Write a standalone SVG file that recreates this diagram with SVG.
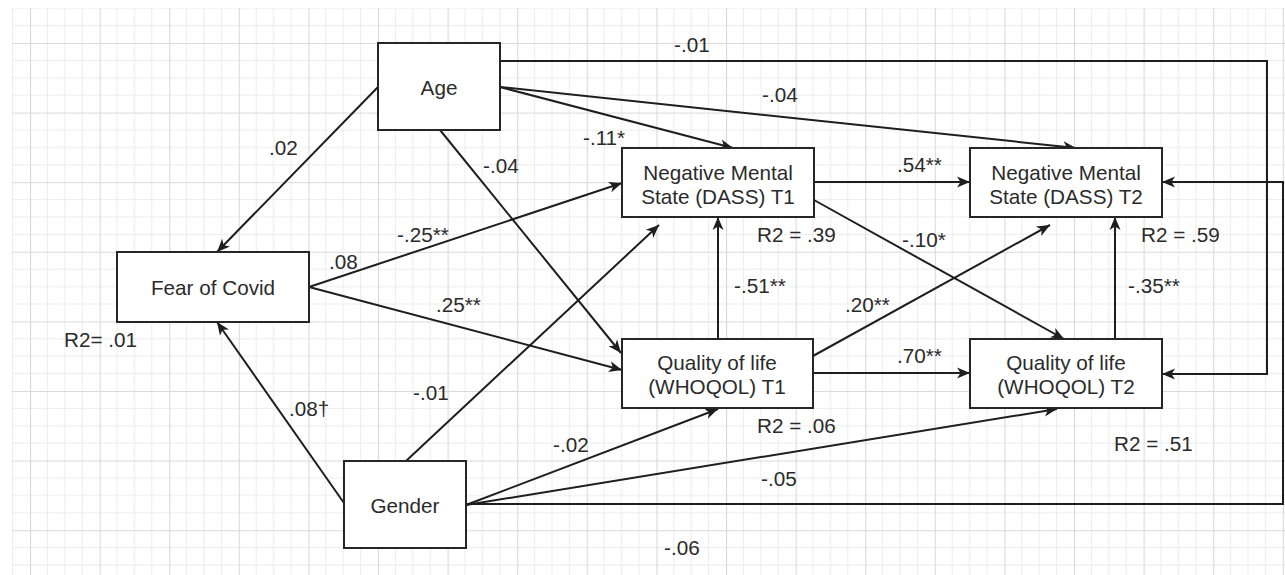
<svg xmlns="http://www.w3.org/2000/svg" width="1285" height="575" viewBox="0 0 1285 575">
<style>
.box{fill:#fff;stroke:#262626;stroke-width:2}
.t{font-family:"Liberation Sans",Arial,sans-serif;font-size:20.7px;fill:#2b2b2b;text-anchor:middle}
.l{font-family:"Liberation Sans",Arial,sans-serif;font-size:20.7px;fill:#2b2b2b}
.c{fill:none;stroke:#1e1e1e;stroke-width:2}
.a{marker-end:url(#ah)}
</style>
<defs>
<pattern id="grid" patternUnits="userSpaceOnUse" x="30" y="43" width="69.6" height="69.6">
<path d="M17.4,0V69.6M34.8,0V69.6M52.2,0V69.6M0,17.4H69.6M0,34.8H69.6M0,52.2H69.6" stroke="#ececec" stroke-width="1" fill="none"/>
<path d="M0.5,0V69.6M0,0.5H69.6" stroke="#d9d9d9" stroke-width="1.2" fill="none"/>
</pattern>
<marker id="ah" markerUnits="userSpaceOnUse" markerWidth="16" markerHeight="14" refX="13" refY="7" orient="auto">
<path d="M0,1.5 L13,7 L0,12.5 L3.5,7 z" fill="#1e1e1e"/>
</marker>
</defs>
<rect width="1285" height="575" fill="#fff"/>
<rect x="12" y="8" width="1273" height="567" fill="url(#grid)"/>

<g id="connectors">
<path class="c a" d="M378,87 L217,252"/>
<path class="c a" d="M344,503 L217,322"/>
<path class="c a" d="M500,61 H1267 V374 H1162"/>
<path class="c a" d="M500,87 L733,148"/>
<path class="c a" d="M500,87 L1076,148"/>
<path class="c a" d="M440,130 L621,353"/>
<path class="c a" d="M309,287 L622,183"/>
<path class="c a" d="M309,287 L622,370"/>
<path class="c a" d="M406,461 L659,225"/>
<path class="c a" d="M466,505 L718,409"/>
<path class="c a" d="M466,505 L1057,409"/>
<path class="c a" d="M466,504 H1283 V182 H1162"/>
<path class="c a" d="M718,339 V217"/>
<path class="c a" d="M814,182 H970"/>
<path class="c a" d="M814,200 L1064,339"/>
<path class="c a" d="M813,356 L1050,225"/>
<path class="c a" d="M813,373 H970"/>
<path class="c a" d="M1115,339 V217"/>
</g>

<g id="age"><rect class="box" x="378" y="43" width="122" height="87"/><text class="t" x="439" y="94.5">Age</text></g>
<g id="fear"><rect class="box" x="117" y="252" width="192" height="70"/><text class="t" x="213" y="294.5">Fear of Covid</text></g>
<g id="gender"><rect class="box" x="344" y="461" width="122" height="87"/><text class="t" x="405" y="512.5">Gender</text></g>
<g id="nms1"><rect class="box" x="622" y="148" width="192" height="69"/><text class="t" x="718" y="179.5">Negative Mental</text><text class="t" x="718" y="203.5">State (DASS) T1</text></g>
<g id="nms2"><rect class="box" x="970" y="148" width="192" height="69"/><text class="t" x="1066" y="179.5">Negative Mental</text><text class="t" x="1066" y="203.5">State (DASS) T2</text></g>
<g id="qol1"><rect class="box" x="622" y="339" width="191" height="69"/><text class="t" x="717" y="369.5">Quality of life</text><text class="t" x="717" y="393.5">(WHOQOL) T1</text></g>
<g id="qol2"><rect class="box" x="970" y="339" width="192" height="69"/><text class="t" x="1066" y="369.5">Quality of life</text><text class="t" x="1066" y="393.5">(WHOQOL) T2</text></g>

<g id="labels">
<text class="l" x="674" y="52">-.01</text>
<text class="l" x="762" y="102">-.04</text>
<text class="l" x="583" y="145">-.11*</text>
<text class="l" x="483" y="173">-.04</text>
<text class="l" x="269" y="155">.02</text>
<text class="l" x="397" y="242">-.25**</text>
<text class="l" x="329" y="269">.08</text>
<text class="l" x="436" y="312">.25**</text>
<text class="l" x="413" y="400">-.01</text>
<text class="l" x="289" y="416">.08†</text>
<text class="l" x="553" y="452">-.02</text>
<text class="l" x="664" y="555">-.06</text>
<text class="l" x="761" y="486">-.05</text>
<text class="l" x="64" y="347">R2= .01</text>
<text class="l" x="757" y="242">R2 = .39</text>
<text class="l" x="1141" y="242">R2 = .59</text>
<text class="l" x="757" y="433">R2 = .06</text>
<text class="l" x="1114" y="451">R2 = .51</text>
<text class="l" x="734" y="293">-.51**</text>
<text class="l" x="845" y="312">.20**</text>
<text class="l" x="902" y="247">-.10*</text>
<text class="l" x="897" y="172">.54**</text>
<text class="l" x="897" y="363">.70**</text>
<text class="l" x="1128" y="293">-.35**</text>
</g>
</svg>
